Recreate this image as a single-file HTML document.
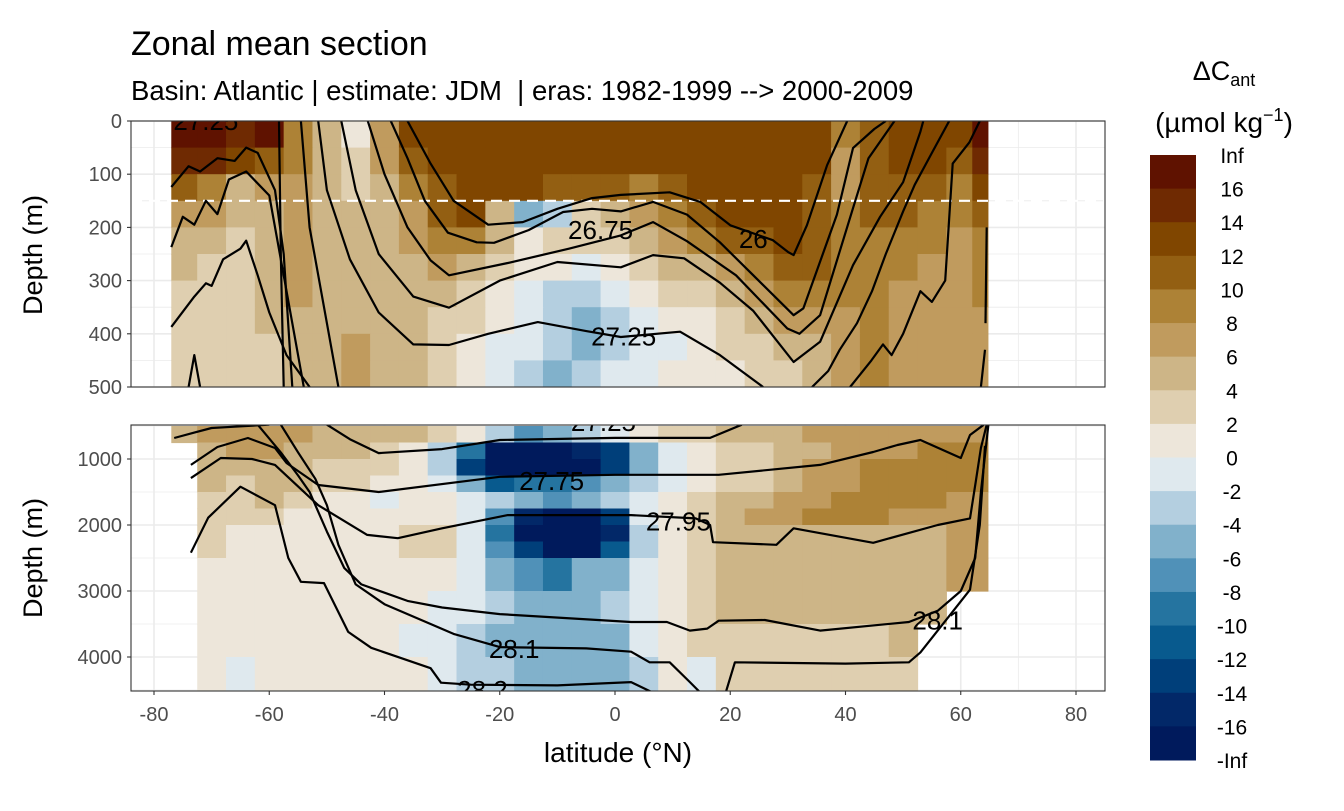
<!DOCTYPE html>
<html><head><meta charset="utf-8">
<style>
body{margin:0;background:#fff;}
svg text{font-family:"Liberation Sans",Arial,sans-serif;}
</style></head>
<body>
<svg id="chart" width="1344" height="806" viewBox="0 0 1344 806" xmlns="http://www.w3.org/2000/svg">
<rect width="1344" height="806" fill="#fff"/>
<text x="131" y="55" font-size="34" fill="#000">Zonal mean section</text>
<text x="131" y="100" font-size="27.5" fill="#000" xml:space="preserve">Basin: Atlantic | estimate: JDM  | eras: 1982-1999 --&gt; 2000-2009</text>
<defs>
<clipPath id="clipTop"><rect x="131" y="121" width="974" height="266"/></clipPath>
<clipPath id="clipBot"><rect x="131" y="425" width="974" height="266"/></clipPath>
</defs>
<g id="gridTop"></g>
<g id="gridBot"></g>
<g id="cellsTop" clip-path="url(#clipTop)"></g>
<g id="cellsBot" clip-path="url(#clipBot)"></g>
<line id="dash" x1="131" x2="1105" stroke="#fff" stroke-width="2.2" stroke-dasharray="11,7"/>
<g id="linesTop" clip-path="url(#clipTop)"></g>
<g id="linesBot" clip-path="url(#clipBot)"></g>
<g id="labelsTop" clip-path="url(#clipTop)" font-size="26"></g>
<g id="labelsBot" clip-path="url(#clipBot)" font-size="26"></g>
<rect x="131" y="121" width="974" height="266" fill="none" stroke="#333" stroke-width="1.1"/>
<rect x="131" y="425" width="974" height="266" fill="none" stroke="#333" stroke-width="1.1"/>
<g id="axes" font-size="20" fill="#4d4d4d"></g>
<text transform="translate(42,255) rotate(-90)" text-anchor="middle" font-size="27">Depth (m)</text>
<text transform="translate(42,558) rotate(-90)" text-anchor="middle" font-size="27">Depth (m)</text>
<text x="618" y="762" text-anchor="middle" font-size="28">latitude (°N)</text>
<g id="legend">
<text x="1224" y="80" text-anchor="middle" font-size="27">ΔC<tspan font-size="18" dy="6">ant</tspan></text>
<text x="1224" y="132" text-anchor="middle" font-size="28">(µmol kg<tspan font-size="18" dy="-11">−1</tspan><tspan dy="11">)</tspan></text>
</g>
</svg>
<script>
const svg=document.getElementById('chart');
const NS='http://www.w3.org/2000/svg';
// ---- data ----
const colorLevels=['Inf','16','14','12','10','8','6','4','2','0','-2','-4','-6','-8','-10','-12','-14','-16','-Inf'];
const binColors=['#5f1200','#6f2a02','#804600','#935f12','#ad8236','#c09b5e','#cdb587','#dfcfb0','#ede6da','#dfe9ee','#b4cfe0','#81b1cb','#5091b8','#2574a0','#085a8e','#003f7a','#022868','#001a5c'];
const xTicks=[-80,-60,-40,-20,0,20,40,60,80];
const yTicksTop=[0,100,200,300,400,500];
const yTicksBot=[1000,2000,3000,4000];
const latCenters=[-75,-70,-65,-60,-55,-50,-45,-40,-35,-30,-25,-20,-15,-10,-5,0,5,10,15,20,25,30,35,40,45,50,55,60,64];
const topDepthEdges=[0,50,100,150,200,250,300,350,400,450,500];
const topValues=[
[17,17,15,17,9,5,1,7,13,13,13,13,13,13,13,13,13,13,13,13,13,13,13,9,11,13,13,13,17],
[15,15,13,11,9,5,3,7,11,13,13,13,13,13,13,13,13,13,13,13,13,13,13,7,11,13,13,11,15],
[11,9,5,7,7,5,3,5,9,11,13,13,13,11,11,11,9,11,13,13,13,13,11,7,11,11,11,9,13],
[7,7,5,5,7,5,5,5,7,11,13,5,-5,-3,3,5,7,9,11,13,13,13,11,9,11,11,9,9,11],
[5,5,3,5,7,5,5,5,7,9,9,5,1,3,3,3,5,7,9,11,11,13,11,9,9,9,9,7,9],
[5,3,3,5,7,5,5,5,5,7,5,3,1,1,-1,1,3,5,5,7,9,11,11,9,9,9,7,7,9],
[3,3,3,5,7,5,5,5,5,5,3,1,-1,-3,-3,-1,1,3,3,5,7,9,9,9,9,7,7,7,9],
[3,3,3,5,5,5,5,5,5,3,3,1,-1,-3,-5,-3,-1,1,1,3,5,7,7,7,9,7,7,7,7],
[3,3,3,3,5,5,7,5,5,3,1,-1,-1,-3,-5,-3,-1,-1,1,3,3,5,5,7,9,7,7,7,7],
[3,3,3,3,5,5,7,5,5,3,1,-1,-3,-5,-3,-1,-1,1,1,1,3,3,5,7,9,7,7,7,7]];
const botDepthEdges=[500,750,1000,1250,1500,1750,2000,2250,2500,3000,3500,4000,4515];
const N=null;
const botValues=[
[5,7,7,7,7,5,5,5,5,3,1,-3,-7,-5,-3,-1,1,3,3,5,5,5,7,7,7,7,7,7,7],
[N,5,7,7,5,5,5,3,1,-3,-9,-17,-17,-17,-15,-13,-5,-1,1,3,3,5,5,7,7,7,9,9,9],
[N,5,5,5,5,3,3,3,1,-3,-13,-17,-17,-17,-17,-13,-5,-1,1,3,3,5,7,7,9,9,9,9,9],
[N,5,3,5,5,3,3,1,1,-1,-5,-11,-9,-9,-7,-5,-3,-1,1,3,3,5,7,7,9,9,9,9,9],
[N,3,3,5,3,1,1,-1,1,1,-1,-3,-5,-7,-5,-3,-1,1,3,5,5,7,7,9,9,9,9,7,7],
[N,3,3,3,1,1,1,1,1,1,-1,-7,-15,-17,-17,-13,-1,1,3,5,7,7,9,9,9,7,7,7,7],
[N,3,1,1,1,1,1,1,3,3,-1,-9,-17,-17,-17,-15,-3,1,3,5,5,5,5,5,5,5,5,7,7],
[N,3,1,1,1,1,1,1,3,3,-1,-7,-13,-17,-17,-11,-3,1,3,5,5,5,5,5,5,5,5,7,7],
[N,1,1,1,1,1,1,1,1,1,-1,-5,-7,-9,-5,-5,-1,1,3,5,5,5,5,5,5,5,5,7,7],
[N,1,1,1,1,1,1,1,1,-1,-1,-3,-5,-5,-5,-3,-1,1,3,5,5,5,5,5,5,5,5,N,N],
[N,1,1,1,1,1,1,1,-1,-1,-3,-5,-5,-5,-5,-5,-1,1,3,3,3,3,3,3,3,5,N,N,N],
[N,1,-1,1,1,1,1,1,1,-1,-3,-3,-5,-5,-5,-5,-3,1,-1,3,3,3,3,3,3,3,N,N,N]];
const mixedLayerDepth=150;
// isopycnals: [lat, depth] pairs
const topLines=[
[[-36,0],[-32,80],[-28,150],[-22,195],[-16,190],[-10,165],[-4,145],[1,139],[9.5,134],[14.8,152],[20,196],[27.4,224],[30,246],[31,252],[33.3,196],[36.8,83],[40.3,0]],
[[-38.9,0],[-36,70],[-33,150],[-29,210],[-24,228],[-21,229],[-15,205],[-9,171],[-4,165],[1,170],[6.6,152],[12.5,176],[18.2,228],[24,290],[31,365],[32.7,352],[38.5,176],[41.3,51],[45,15],[47,0]],
[[-42.9,0],[-40,100],[-36,200],[-32,262],[-28.8,290],[-18.6,267],[-8,240],[1,215],[6.6,190],[12.5,226],[21,290],[29.9,390],[32,400],[35.6,365],[41.3,164],[44,70],[48.5,0]],
[[-47.5,0],[-45,130],[-41,250],[-35,330],[-28.8,351],[-20,300],[-10,265],[1,275],[6.6,252],[12,258],[18.2,304],[24,357],[31,453],[35.6,415],[41.3,271],[46,180],[50,115],[53,20],[53.5,0]],
[[-51.5,0],[-50,130],[-46,260],[-41,360],[-35,420],[-28.8,421],[-22,400],[-13.4,378],[-5,395],[1,406],[11.3,396],[18.2,440],[25.7,500]],
[[-58.3,0],[-58,250],[-57.5,500]],
[[-54.5,0],[-53,200],[-50,380],[-48,500]],
[[-77,124],[-74,85],[-72,95],[-69,70],[-66,75],[-64,50],[-62,60],[-59,130],[-57.5,250],[-56,500]],
[[-77,237],[-75,180],[-73,195],[-71,150],[-69,175],[-67,110],[-64,95],[-60,140],[-58,260],[-54,500]],
[[-77,387],[-73,330],[-71,305],[-70,310],[-68,260],[-65,240],[-64,225],[-62,290],[-60,360],[-57,440],[-53,500]],
[[-74,500],[-73,440],[-72,500]],
[[63.3,0],[61.5,40],[58.6,80],[57.3,300],[55,340],[53,320],[50,400],[48,440],[46.5,420],[44.5,450],[40.8,500]],
[[58,0],[55,60],[52,120],[50,170],[47,250],[44.6,320],[42,380],[39,430],[37,470],[34.2,500]],
[[64.5,200],[64.3,380]],
[[64.2,430],[63.5,500]]];
const botLines=[
[[-76.5,682],[-73,600],[-70,530],[-66,510],[-60,480]],
[[-50,480],[-46,700],[-41,910],[-30,850],[-20,712],[0,680],[16.5,680],[22,480]],
[[-73.6,1090],[-69,818],[-63.7,682],[-59,833],[-57,1060],[-51.5,1394],[-41,1500],[-20,1270],[0,1240],[18,1240],[35.6,1090],[44.8,894],[49,788],[53,712],[60,985],[61.6,636],[64,480]],
[[-73.6,1290],[-68.4,985],[-63,1000],[-59,1090],[-51.5,1700],[-43,2150],[-37.7,2200],[-30,2050],[-18.6,1850],[2.8,1850],[14,1900],[16.5,2000],[17,2260],[28,2300],[31,2050],[44.8,2270],[56,2000],[61.6,1900],[62.6,1350],[63.5,833],[64.5,480]],
[[-62,480],[-58,900],[-55,1250],[-53,1500],[-50,2100],[-47,2650],[-44,2900],[-36,3150],[-30,3250],[-20,3350],[2.8,3470],[9,3470],[13,3600],[16,3570],[18,3450],[26,3440],[35.6,3600],[51,3470],[56,3300],[60,3000],[62.5,2500],[63.5,1500],[64.8,480]],
[[-58,480],[-55,900],[-52,1300],[-50,1700],[-48,2300],[-45,2900],[-40,3200],[-32,3500],[-28,3650],[-20,3850],[-5,3870],[2.8,3920],[6,4080],[9.5,4080],[13,4380],[15.5,4600]],
[[19,4600],[20.8,4080],[40,4100],[51,4080],[53,3930],[58,3380],[61.6,2980],[63.3,2000],[64.2,800]],
[[-73.6,2420],[-70.6,1890],[-65,1420],[-59,1700],[-56.7,2500],[-54.5,2860],[-50.5,2880],[-46.3,3620],[-42.3,3860],[-32,4170],[-30.2,4390],[-25,4420],[-10,4430],[2.8,4380],[8,4600]],
[[-28,4600],[-25,4560],[-10,4540],[0,4560]]];
const topLabels=[['26.75',-2.5,205],['26',24,222],['27.25',1.5,405],['27.25',-71,0]];
const botLabels=[['27.75',-11,1330],['27.95',11,1950],['28.1',-17.5,3880],['28.2',-23,4500],['27.25',-2,440],['28.1',56,3450]];
// ---- scales ----
const xS=lat=>615+lat*5.7625;
const yTop=d=>121+d*0.532;
const yBot=d=>393+d*0.066;
const binIndex=v=>v>=16?0:(v<-16?17:1+Math.floor((16-v)/2));
function el(tag,attrs,parent){const e=document.createElementNS(NS,tag);for(const k in attrs)e.setAttribute(k,attrs[k]);parent.appendChild(e);return e;}
// grids
function grid(g,y0,y1,ys,minorYs){
  for(let lat=-90;lat<=90;lat+=10){const x=xS(lat);if(x<131||x>1105)continue;
    el('line',{x1:x,x2:x,y1:y0,y2:y1,stroke:'#ebebeb','stroke-width':lat%20===0?1.6:0.8},g);}
  minorYs.forEach(y=>el('line',{x1:131,x2:1105,y1:y,y2:y,stroke:'#ebebeb','stroke-width':0.8},g));
  ys.forEach(y=>el('line',{x1:131,x2:1105,y1:y,y2:y,stroke:'#ebebeb','stroke-width':1.6},g));
}
grid(document.getElementById('gridTop'),121,387,yTicksTop.map(yTop),[50,150,250,350,450].map(yTop));
grid(document.getElementById('gridBot'),425,691,yTicksBot.map(yBot),[500,1500,2500,3500,4500].map(yBot));
// heatmap cells
function colEdges(i){const lo=i===0?-77:(latCenters[i-1]+latCenters[i])/2;const hi=i===latCenters.length-1?64.7:(latCenters[i]+latCenters[i+1])/2;return [lo,hi];}
function cells(g,vals,edges,yf){
  vals.forEach((row,r)=>row.forEach((v,i)=>{ if(v===null)return;
    const [lo,hi]=colEdges(i);const x0=xS(lo),x1=xS(hi),y0=yf(edges[r]),y1=yf(edges[r+1]);
    const c=el('rect',{x:x0,y:y0,width:x1-x0+0.6,height:y1-y0+0.6,fill:binColors[binIndex(v)]},g);
    
    
  }));
}
cells(document.getElementById('cellsTop'),topValues,topDepthEdges,yTop);
cells(document.getElementById('cellsBot'),botValues,botDepthEdges,yBot);
const dash=document.getElementById('dash');dash.setAttribute('y1',yTop(mixedLayerDepth));dash.setAttribute('y2',yTop(mixedLayerDepth));
// contour lines
function lines(g,arr,yf){arr.forEach(pts=>{
  const p=el('polyline',{points:pts.map(q=>xS(q[0]).toFixed(1)+','+yf(q[1]).toFixed(1)).join(' '),fill:'none',stroke:'#000','stroke-width':2.2,'stroke-linejoin':'round'},g);
  
  
});}
lines(document.getElementById('linesTop'),topLines,yTop);
lines(document.getElementById('linesBot'),botLines,yBot);
function labels(g,arr,yf){arr.forEach(l=>{
  const t=el('text',{x:xS(l[1]),y:yf(l[2])+9,'text-anchor':'middle',fill:'#000'},g);t.textContent=l[0];
  
  
});}
labels(document.getElementById('labelsTop'),topLabels,yTop);
labels(document.getElementById('labelsBot'),botLabels,yBot);
// axes
const ax=document.getElementById('axes');
yTicksTop.forEach(d=>{const y=yTop(d);el('line',{x1:127,x2:131,y1:y,y2:y,stroke:'#333','stroke-width':1.1},ax);
  const t=el('text',{x:122,y:y+7,'text-anchor':'end'},ax);t.textContent=d;
  
  });
yTicksBot.forEach(d=>{const y=yBot(d);el('line',{x1:127,x2:131,y1:y,y2:y,stroke:'#333','stroke-width':1.1},ax);
  const t=el('text',{x:122,y:y+7,'text-anchor':'end'},ax);t.textContent=d;
  
  });
xTicks.forEach(v=>{const x=xS(v);el('line',{x1:x,x2:x,y1:691,y2:695,stroke:'#333','stroke-width':1.1},ax);
  const t=el('text',{x:x,y:721,'text-anchor':'middle'},ax);t.textContent=v;
  
  });
// legend
const lg=document.getElementById('legend');
const lgTop=155,lgH=(760-155)/18;
binColors.forEach((c,i)=>{const r=el('rect',{x:1150,y:lgTop+i*lgH,width:46,height:lgH+0.5,fill:c},lg);
  
  });
colorLevels.forEach((s,i)=>{const t=el('text',{x:1232,y:lgTop+i*lgH+8,'text-anchor':'middle','font-size':21,fill:'#000'},lg);t.textContent=s;
  
  });
</script>
</body></html>
